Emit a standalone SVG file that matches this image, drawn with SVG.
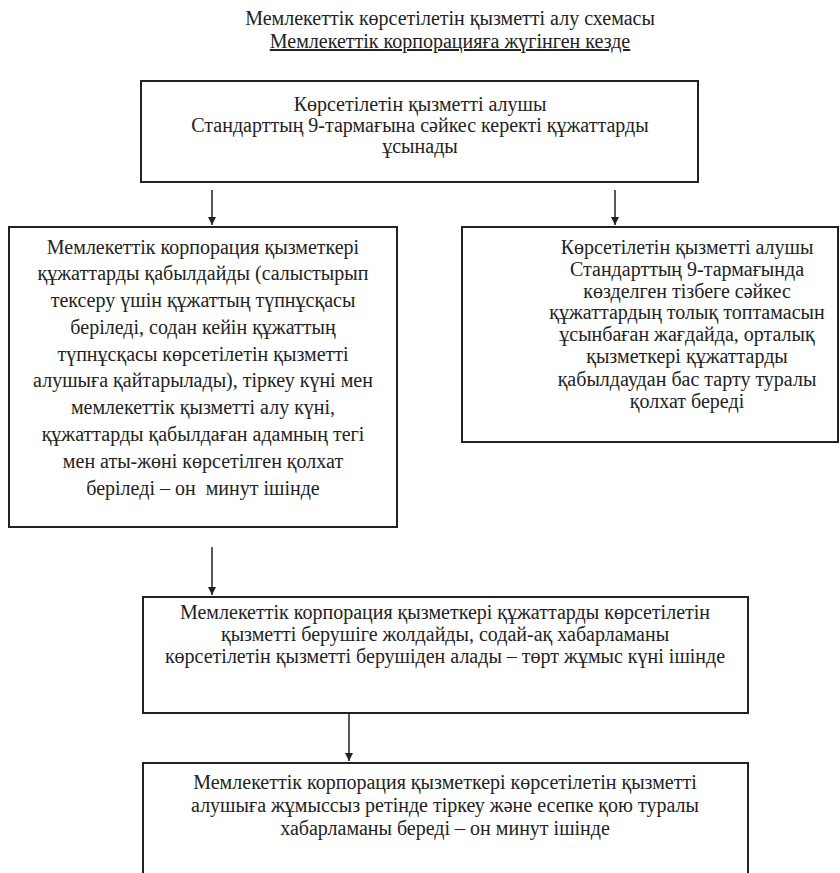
<svg xmlns="http://www.w3.org/2000/svg" width="840" height="873" viewBox="0 0 840 873">
<style>
text{font-family:"Liberation Serif","Times New Roman",serif;font-size:20px;fill:#222;text-anchor:middle;white-space:pre}
.box{fill:#fff;stroke:#222;stroke-width:2}
.conn{stroke:#222;stroke-width:1.5;fill:none;marker-end:url(#ah)}
</style>
<defs>
<marker id="ah" viewBox="0 0 10 10" refX="10" refY="5" markerWidth="8" markerHeight="8" markerUnits="userSpaceOnUse" orient="auto">
<path d="M0,0L10,5L0,10z" fill="#222"/>
</marker>
</defs>
<rect width="840" height="873" fill="#fff"/>
<g id="title">
<text x="450" y="25">Мемлекеттік көрсетілетін қызметті алу схемасы</text>
<text x="450" y="48" text-decoration="underline">Мемлекеттік корпорацияға жүгінген кезде</text>
</g>
<g id="connectors">
<line class="conn" x1="212" y1="190" x2="212" y2="225"/>
<line class="conn" x1="615" y1="190" x2="615" y2="225"/>
<line class="conn" x1="212" y1="547" x2="212" y2="595"/>
<line class="conn" x1="349" y1="714" x2="349" y2="761"/>
</g>
<g id="n1">
<rect class="box" x="141" y="81" width="557" height="101"/>
<text x="420" y="111">Көрсетілетін қызметті алушы</text>
<text x="420" y="132">Стандарттың 9-тармағына сәйкес керекті құжаттарды</text>
<text x="420" y="153">ұсынады</text>
</g>
<g id="n2">
<rect class="box" x="9" y="227" width="388" height="300"/>
<text x="203" y="254">Мемлекеттік корпорация қызметкері</text>
<text x="203" y="280">құжаттарды қабылдайды (салыстырып</text>
<text x="203" y="307">тексеру үшін құжаттың түпнұсқасы</text>
<text x="203" y="334">беріледі, содан кейін құжаттың</text>
<text x="203" y="361">түпнұсқасы көрсетілетін қызметті</text>
<text x="203" y="387">алушыға қайтарылады), тіркеу күні мен</text>
<text x="203" y="414">мемлекеттік қызметті алу күні,</text>
<text x="203" y="441">құжаттарды қабылдаған адамның тегі</text>
<text x="203" y="468">мен аты-жөні көрсетілген қолхат</text>
<text x="203" y="495">беріледі – он  минут ішінде</text>
</g>
<g id="n3">
<rect class="box" x="462" y="227" width="376" height="215"/>
<text x="687" y="254">Көрсетілетін қызметті алушы</text>
<text x="687" y="276">Стандарттың 9-тармағында</text>
<text x="687" y="298">көзделген тізбеге сәйкес</text>
<text x="687" y="319">құжаттардың толық топтамасын</text>
<text x="687" y="341">ұсынбаған жағдайда, орталық</text>
<text x="687" y="363">қызметкері құжаттарды</text>
<text x="687" y="386">қабылдаудан бас тарту туралы</text>
<text x="687" y="408">қолхат береді</text>
</g>
<g id="n4">
<rect class="box" x="143" y="597" width="605" height="116"/>
<text x="445" y="619">Мемлекеттік корпорация қызметкері құжаттарды көрсетілетін</text>
<text x="445" y="641">қызметті берушіге жолдайды, содай-ақ хабарламаны</text>
<text x="445" y="663">көрсетілетін қызметті берушіден алады – төрт жұмыс күні ішінде</text>
</g>
<g id="n5">
<rect class="box" x="143" y="763" width="605" height="120"/>
<text x="445" y="789">Мемлекеттік корпорация қызметкері көрсетілетін қызметті</text>
<text x="445" y="812">алушыға жұмыссыз ретінде тіркеу және есепке қою туралы</text>
<text x="445" y="835">хабарламаны береді – он минут ішінде</text>
</g>
</svg>
